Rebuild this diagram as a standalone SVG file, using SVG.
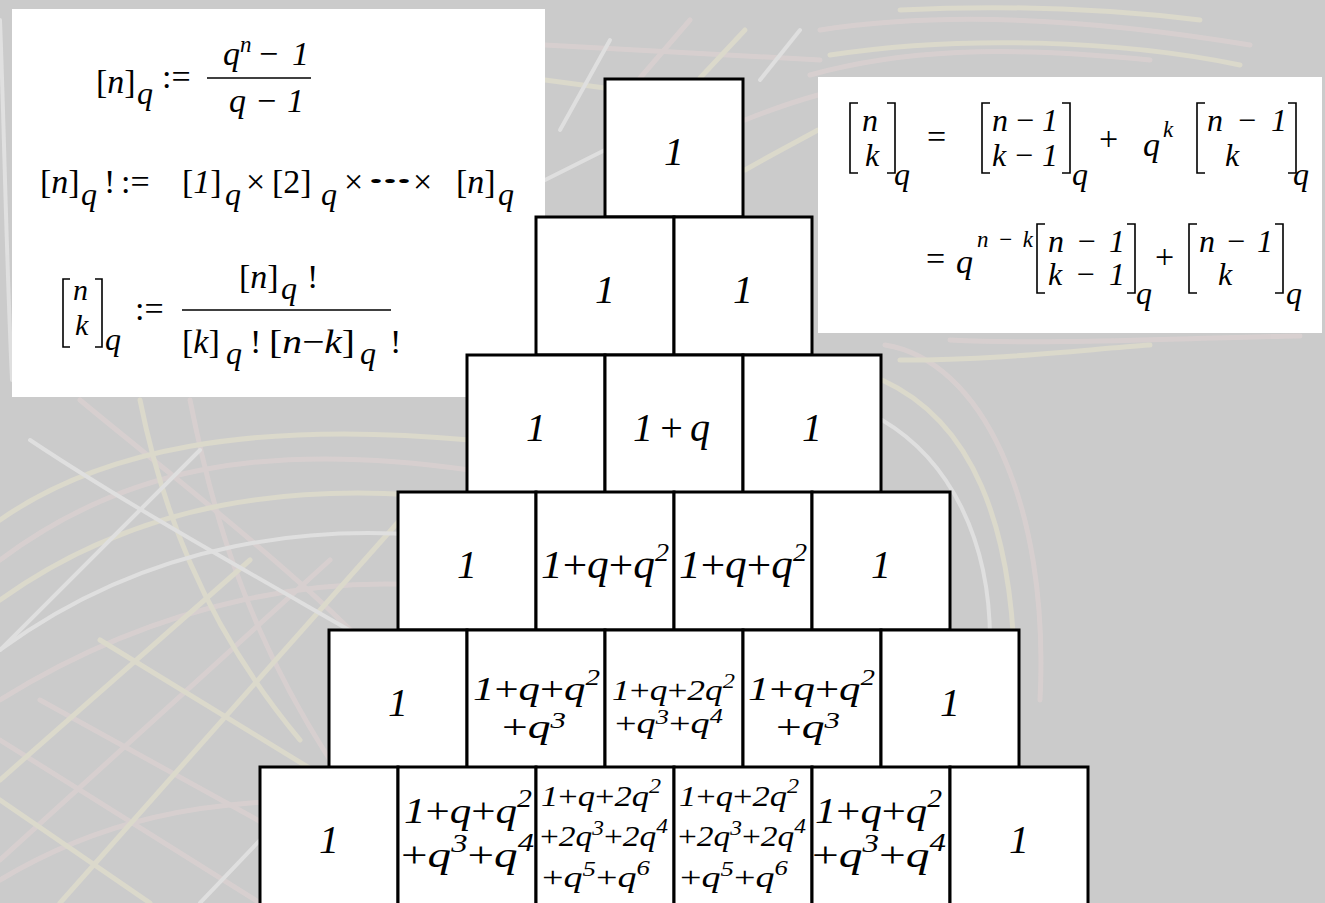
<svg xmlns="http://www.w3.org/2000/svg" xmlns:xlink="http://www.w3.org/1999/xlink" width="1325" height="903" viewBox="0 0 1325 903" font-family="Liberation Serif">
<defs>
<rect id="cellbox" width="138" height="138" fill="#fff" stroke="#000" stroke-width="3"/>
</defs>
<rect x="0" y="0" width="1325" height="903" fill="#cbcbcb"/>
<g id="backdrop" fill="none" stroke-linecap="round" opacity="0.7">
<g stroke="#ddd2d2" stroke-width="5">
<path d="M0,560 C120,470 260,440 470,470"/>
<path d="M0,700 C160,600 330,570 470,590"/>
<path d="M80,400 C200,500 340,600 470,760"/>
<path d="M190,400 C210,500 240,620 330,760"/>
<path d="M470,700 L300,903"/>
<path d="M330,560 L0,860"/>
<path d="M0,740 L260,903"/>
<path d="M40,700 L330,860"/>
<path d="M0,880 C100,820 200,800 329,800"/>
<path d="M545,45 L820,60"/>
<path d="M640,78 L690,20"/>
<path d="M745,120 C770,110 800,100 818,95"/>
<path d="M820,30 C950,10 1100,20 1250,45"/>
<path d="M810,75 C900,50 1000,45 1150,60"/>
<path d="M885,345 C980,360 1050,500 1040,700"/>
<path d="M950,340 C1050,345 1180,338 1300,336"/>
</g>
<g stroke="#e2dfcc" stroke-width="5">
<path d="M0,600 C140,500 300,480 470,500"/>
<path d="M0,520 C100,450 250,420 470,440"/>
<path d="M140,400 C160,500 200,620 300,740"/>
<path d="M400,520 L60,903"/>
<path d="M250,560 L0,780"/>
<path d="M0,800 L150,903"/>
<path d="M100,640 L329,780"/>
<path d="M545,80 L605,88"/>
<path d="M700,78 L745,30"/>
<path d="M745,170 C780,150 800,140 818,130"/>
<path d="M830,55 C960,35 1120,40 1240,65"/>
<path d="M900,10 C1000,5 1100,8 1200,20"/>
<path d="M882,380 C970,420 1015,520 1015,690"/>
<path d="M900,360 C1000,360 1080,350 1150,345"/>
</g>
<g stroke="#e8e8e8" stroke-width="4">
<path d="M0,650 C150,540 320,520 470,540"/>
<path d="M30,440 C150,520 300,600 470,700"/>
<path d="M470,620 L200,903"/>
<path d="M200,450 L0,650"/>
<path d="M0,20 C4,120 6,250 12,380"/>
<path d="M560,130 L610,40"/>
<path d="M545,180 L605,150"/>
<path d="M760,80 L800,30"/>
<path d="M882,420 C950,460 990,540 990,640"/>
</g>
</g>
<g id="panel-definitions">
<rect x="12" y="9" width="533" height="388" fill="#fff"/>
<text font-family="Liberation Serif" font-size="34" x="96" y="93">[<tspan font-style="italic">n</tspan>]</text>
<text font-family="Liberation Serif" font-size="32" font-style="italic" x="137" y="104">q</text>
<text font-family="Liberation Serif" font-size="34" x="162" y="88">:=</text>
<text font-family="Liberation Serif" font-size="34" font-style="italic" x="223" y="65">q</text>
<text font-family="Liberation Serif" font-size="23" font-style="italic" x="240" y="52">n</text>
<text font-family="Liberation Serif" font-size="34" x="259" y="65">−</text>
<text font-family="Liberation Serif" font-size="34" font-style="italic" x="292" y="65">1</text>
<line x1="207" y1="78" x2="311" y2="78" stroke="#000" stroke-width="1.6"/>
<text font-family="Liberation Serif" font-size="34" font-style="italic" x="229" y="112">q</text>
<text font-family="Liberation Serif" font-size="34" x="257" y="112">−</text>
<text font-family="Liberation Serif" font-size="34" font-style="italic" x="287" y="112">1</text>

<text font-family="Liberation Serif" font-size="34" x="40" y="193">[<tspan font-style="italic">n</tspan>]</text>
<text font-family="Liberation Serif" font-size="32" font-style="italic" x="81" y="205">q</text>
<text font-family="Liberation Serif" font-size="34" x="104" y="193">!</text>
<text font-family="Liberation Serif" font-size="34" x="121" y="193">:=</text>
<text font-family="Liberation Serif" font-size="34" x="182" y="193">[<tspan font-style="italic">1</tspan>]</text>
<text font-family="Liberation Serif" font-size="32" font-style="italic" x="225" y="205">q</text>
<text font-family="Liberation Serif" font-size="34" x="246" y="193">×</text>
<text font-family="Liberation Serif" font-size="34" x="272" y="193">[2]</text>
<text font-family="Liberation Serif" font-size="32" font-style="italic" x="321" y="205">q</text>
<text font-family="Liberation Serif" font-size="34" x="344" y="193">×</text>
<text font-family="Liberation Serif" font-size="16" x="369" y="187" textLength="42" lengthAdjust="spacingAndGlyphs">•••</text>
<text font-family="Liberation Serif" font-size="34" x="413" y="193">×</text>
<text font-family="Liberation Serif" font-size="34" x="456" y="193">[<tspan font-style="italic">n</tspan>]</text>
<text font-family="Liberation Serif" font-size="32" font-style="italic" x="498" y="205">q</text>

<g fill="none" stroke="#000" stroke-width="1.6">
<path d="M70,279 H63 V347 H70"/>
<path d="M95,279 H102 V347 H95"/>
</g>
<text font-family="Liberation Serif" font-size="30" font-style="italic" x="73" y="300">n</text>
<text font-family="Liberation Serif" font-size="30" font-style="italic" x="75" y="335">k</text>
<text font-family="Liberation Serif" font-size="32" font-style="italic" x="105" y="350">q</text>
<text font-family="Liberation Serif" font-size="34" x="135" y="320">:=</text>
<text font-family="Liberation Serif" font-size="34" x="239" y="288">[<tspan font-style="italic">n</tspan>]</text>
<text font-family="Liberation Serif" font-size="32" font-style="italic" x="281" y="299">q</text>
<text font-family="Liberation Serif" font-size="34" x="307" y="288">!</text>
<line x1="182" y1="310" x2="391" y2="310" stroke="#000" stroke-width="1.6"/>
<text font-family="Liberation Serif" font-size="34" x="182" y="353">[<tspan font-style="italic">k</tspan>]</text>
<text font-family="Liberation Serif" font-size="32" font-style="italic" x="226" y="364">q</text>
<text font-family="Liberation Serif" font-size="34" x="250" y="353">!</text>
<text font-family="Liberation Serif" font-size="34" x="269" y="353" textLength="86" lengthAdjust="spacingAndGlyphs">[<tspan font-style="italic">n</tspan>−<tspan font-style="italic">k</tspan>]</text>
<text font-family="Liberation Serif" font-size="32" font-style="italic" x="360" y="364">q</text>
<text font-family="Liberation Serif" font-size="34" x="390" y="353">!</text>
</g>
<g id="panel-recurrence">
<rect x="818" y="77" width="504" height="256" fill="#fff"/>
<g fill="none" stroke="#000" stroke-width="1.6">
<path d="M858,103 H850 V173 H858"/>
<path d="M887,103 H895 V173 H887"/>
<path d="M990,103 H982 V173 H990"/>
<path d="M1062,103 H1070 V173 H1062"/>
<path d="M1205,103 H1197 V173 H1205"/>
<path d="M1288,103 H1296 V173 H1288"/>
<path d="M1045,224 H1037 V293 H1045"/>
<path d="M1127,224 H1135 V293 H1127"/>
<path d="M1197,224 H1189 V293 H1197"/>
<path d="M1275,224 H1283 V293 H1275"/>
</g>
<text font-family="Liberation Serif" font-size="32" font-style="italic" x="862" y="131">n</text>
<text font-family="Liberation Serif" font-size="32" font-style="italic" x="865" y="166">k</text>
<text font-family="Liberation Serif" font-size="32" font-style="italic" x="894" y="185">q</text>
<text font-family="Liberation Serif" font-size="34" x="927" y="148">=</text>
<text font-family="Liberation Serif" font-size="32" font-style="italic" x="992" y="131" textLength="66" lengthAdjust="spacing">n<tspan font-style="normal">−</tspan>1</text>
<text font-family="Liberation Serif" font-size="32" font-style="italic" x="992" y="166" textLength="66" lengthAdjust="spacing">k<tspan font-style="normal">−</tspan>1</text>
<text font-family="Liberation Serif" font-size="32" font-style="italic" x="1072" y="185">q</text>
<text font-family="Liberation Serif" font-size="34" x="1099" y="150">+</text>
<text font-family="Liberation Serif" font-size="34" font-style="italic" x="1143" y="156">q</text>
<text font-family="Liberation Serif" font-size="23" font-style="italic" x="1163" y="137">k</text>
<text font-family="Liberation Serif" font-size="32" font-style="italic" x="1207" y="131" textLength="80" lengthAdjust="spacing">n<tspan font-style="normal">−</tspan>1</text>
<text font-family="Liberation Serif" font-size="32" font-style="italic" x="1225" y="166">k</text>
<text font-family="Liberation Serif" font-size="32" font-style="italic" x="1293" y="185">q</text>

<text font-family="Liberation Serif" font-size="34" x="926" y="270">=</text>
<text font-family="Liberation Serif" font-size="34" font-style="italic" x="956" y="273">q</text>
<text font-family="Liberation Serif" font-size="23" font-style="italic" x="977" y="247" textLength="56" lengthAdjust="spacing">n<tspan font-style="normal">−</tspan>k</text>
<text font-family="Liberation Serif" font-size="32" font-style="italic" x="1048" y="252" textLength="77" lengthAdjust="spacing">n<tspan font-style="normal">−</tspan>1</text>
<text font-family="Liberation Serif" font-size="32" font-style="italic" x="1048" y="285" textLength="77" lengthAdjust="spacing">k<tspan font-style="normal">−</tspan>1</text>
<text font-family="Liberation Serif" font-size="32" font-style="italic" x="1136" y="304">q</text>
<text font-family="Liberation Serif" font-size="34" x="1155" y="268">+</text>
<text font-family="Liberation Serif" font-size="32" font-style="italic" x="1199" y="252" textLength="74" lengthAdjust="spacing">n<tspan font-style="normal">−</tspan>1</text>
<text font-family="Liberation Serif" font-size="32" font-style="italic" x="1218" y="285">k</text>
<text font-family="Liberation Serif" font-size="32" font-style="italic" x="1286" y="304">q</text>
</g>
<g id="pyramid">
<g id="r0c0"><use xlink:href="#cellbox" x="605" y="79"/><text font-family="Liberation Serif" font-size="40" font-style="italic" x="674" y="165" text-anchor="middle">1</text></g>

<g id="r1c0"><use xlink:href="#cellbox" x="536" y="217"/><text font-family="Liberation Serif" font-size="40" font-style="italic" x="605" y="303" text-anchor="middle">1</text></g>
<g id="r1c1"><use xlink:href="#cellbox" x="674" y="217"/><text font-family="Liberation Serif" font-size="40" font-style="italic" x="743" y="303" text-anchor="middle">1</text></g>

<g id="r2c0"><use xlink:href="#cellbox" x="467" y="355"/><text font-family="Liberation Serif" font-size="40" font-style="italic" x="536" y="441" text-anchor="middle">1</text></g>
<g id="r2c1"><use xlink:href="#cellbox" x="605" y="355"/><text font-family="Liberation Serif" font-size="40" font-style="italic" x="633" y="441" textLength="77" lengthAdjust="spacing">1<tspan font-style="normal">+</tspan>q</text></g>
<g id="r2c2"><use xlink:href="#cellbox" x="743" y="355"/><text font-family="Liberation Serif" font-size="40" font-style="italic" x="812" y="441" text-anchor="middle">1</text></g>

<g id="r3c0"><use xlink:href="#cellbox" x="398" y="492"/><text font-family="Liberation Serif" font-size="40" font-style="italic" x="467" y="578" text-anchor="middle">1</text></g>
<g id="r3c1"><use xlink:href="#cellbox" x="536" y="492"/><text font-family="Liberation Serif" font-size="40" font-style="italic" x="541" y="578" textLength="128" lengthAdjust="spacingAndGlyphs">1<tspan font-style="normal">+</tspan>q<tspan font-style="normal">+</tspan>q<tspan font-size="26" dy="-17">2</tspan></text></g>
<g id="r3c2"><use xlink:href="#cellbox" x="674" y="492"/><text font-family="Liberation Serif" font-size="40" font-style="italic" x="679" y="578" textLength="128" lengthAdjust="spacingAndGlyphs">1<tspan font-style="normal">+</tspan>q<tspan font-style="normal">+</tspan>q<tspan font-size="26" dy="-17">2</tspan></text></g>
<g id="r3c3"><use xlink:href="#cellbox" x="812" y="492"/><text font-family="Liberation Serif" font-size="40" font-style="italic" x="881" y="578" text-anchor="middle">1</text></g>

<g id="r4c0"><use xlink:href="#cellbox" x="329" y="630"/><text font-family="Liberation Serif" font-size="40" font-style="italic" x="398" y="716" text-anchor="middle">1</text></g>
<g id="r4c1"><use xlink:href="#cellbox" x="467" y="630"/>
<text font-family="Liberation Serif" font-size="34" font-style="italic" x="473" y="700" textLength="127" lengthAdjust="spacingAndGlyphs">1<tspan font-style="normal">+</tspan>q<tspan font-style="normal">+</tspan>q<tspan font-size="23" dy="-15">2</tspan></text>
<text font-family="Liberation Serif" font-size="34" font-style="italic" x="502" y="738" textLength="64" lengthAdjust="spacingAndGlyphs"><tspan font-style="normal">+</tspan>q<tspan font-size="23" dy="-10">3</tspan></text></g>
<g id="r4c2"><use xlink:href="#cellbox" x="605" y="630"/>
<text font-family="Liberation Serif" font-size="29" font-style="italic" x="612" y="700" textLength="123" lengthAdjust="spacingAndGlyphs">1<tspan font-style="normal">+</tspan>q<tspan font-style="normal">+</tspan>2q<tspan font-size="20" dy="-12">2</tspan></text>
<text font-family="Liberation Serif" font-size="29" font-style="italic" x="615" y="733" textLength="108" lengthAdjust="spacingAndGlyphs"><tspan font-style="normal">+</tspan>q<tspan font-size="20" dy="-9">3</tspan><tspan font-style="normal" dy="9">+</tspan>q<tspan font-size="20" dy="-10">4</tspan></text></g>
<g id="r4c3"><use xlink:href="#cellbox" x="743" y="630"/>
<text font-family="Liberation Serif" font-size="34" font-style="italic" x="748" y="700" textLength="127" lengthAdjust="spacingAndGlyphs">1<tspan font-style="normal">+</tspan>q<tspan font-style="normal">+</tspan>q<tspan font-size="23" dy="-15">2</tspan></text>
<text font-family="Liberation Serif" font-size="34" font-style="italic" x="776" y="738" textLength="64" lengthAdjust="spacingAndGlyphs"><tspan font-style="normal">+</tspan>q<tspan font-size="23" dy="-10">3</tspan></text></g>
<g id="r4c4"><use xlink:href="#cellbox" x="881" y="630"/><text font-family="Liberation Serif" font-size="40" font-style="italic" x="950" y="716" text-anchor="middle">1</text></g>

<g id="r5c0"><use xlink:href="#cellbox" x="260" y="767"/><text font-family="Liberation Serif" font-size="40" font-style="italic" x="329" y="853" text-anchor="middle">1</text></g>
<g id="r5c1"><use xlink:href="#cellbox" x="398" y="767"/>
<text font-family="Liberation Serif" font-size="36" font-style="italic" x="404" y="823" textLength="128" lengthAdjust="spacingAndGlyphs">1<tspan font-style="normal">+</tspan>q<tspan font-style="normal">+</tspan>q<tspan font-size="25" dy="-16">2</tspan></text>
<text font-family="Liberation Serif" font-size="36" font-style="italic" x="401" y="867" textLength="133" lengthAdjust="spacingAndGlyphs"><tspan font-style="normal">+</tspan>q<tspan font-size="25" dy="-15">3</tspan><tspan font-style="normal" dy="15">+</tspan>q<tspan font-size="25" dy="-16">4</tspan></text></g>
<g id="r5c2"><use xlink:href="#cellbox" x="536" y="767"/>
<text font-family="Liberation Serif" font-size="30" font-style="italic" x="541" y="806" textLength="120" lengthAdjust="spacingAndGlyphs">1<tspan font-style="normal">+</tspan>q<tspan font-style="normal">+</tspan>2q<tspan font-size="21" dy="-13">2</tspan></text>
<text font-family="Liberation Serif" font-size="30" font-style="italic" x="540" y="846" textLength="128" lengthAdjust="spacingAndGlyphs"><tspan font-style="normal">+</tspan>2q<tspan font-size="21" dy="-11">3</tspan><tspan font-style="normal" dy="11">+</tspan>2q<tspan font-size="21" dy="-13">4</tspan></text>
<text font-family="Liberation Serif" font-size="30" font-style="italic" x="542" y="887" textLength="108" lengthAdjust="spacingAndGlyphs"><tspan font-style="normal">+</tspan>q<tspan font-size="21" dy="-11">5</tspan><tspan font-style="normal" dy="11">+</tspan>q<tspan font-size="21" dy="-12">6</tspan></text></g>
<g id="r5c3"><use xlink:href="#cellbox" x="674" y="767"/>
<text font-family="Liberation Serif" font-size="30" font-style="italic" x="679" y="806" textLength="120" lengthAdjust="spacingAndGlyphs">1<tspan font-style="normal">+</tspan>q<tspan font-style="normal">+</tspan>2q<tspan font-size="21" dy="-13">2</tspan></text>
<text font-family="Liberation Serif" font-size="30" font-style="italic" x="678" y="846" textLength="128" lengthAdjust="spacingAndGlyphs"><tspan font-style="normal">+</tspan>2q<tspan font-size="21" dy="-11">3</tspan><tspan font-style="normal" dy="11">+</tspan>2q<tspan font-size="21" dy="-13">4</tspan></text>
<text font-family="Liberation Serif" font-size="30" font-style="italic" x="680" y="887" textLength="108" lengthAdjust="spacingAndGlyphs"><tspan font-style="normal">+</tspan>q<tspan font-size="21" dy="-11">5</tspan><tspan font-style="normal" dy="11">+</tspan>q<tspan font-size="21" dy="-12">6</tspan></text></g>
<g id="r5c4"><use xlink:href="#cellbox" x="812" y="767"/>
<text font-family="Liberation Serif" font-size="36" font-style="italic" x="815" y="823" textLength="127" lengthAdjust="spacingAndGlyphs">1<tspan font-style="normal">+</tspan>q<tspan font-style="normal">+</tspan>q<tspan font-size="25" dy="-16">2</tspan></text>
<text font-family="Liberation Serif" font-size="36" font-style="italic" x="812" y="867" textLength="134" lengthAdjust="spacingAndGlyphs"><tspan font-style="normal">+</tspan>q<tspan font-size="25" dy="-15">3</tspan><tspan font-style="normal" dy="15">+</tspan>q<tspan font-size="25" dy="-16">4</tspan></text></g>
<g id="r5c5"><use xlink:href="#cellbox" x="950" y="767"/><text font-family="Liberation Serif" font-size="40" font-style="italic" x="1019" y="853" text-anchor="middle">1</text></g>
</g>
<g id="connectors"/>
</svg>
